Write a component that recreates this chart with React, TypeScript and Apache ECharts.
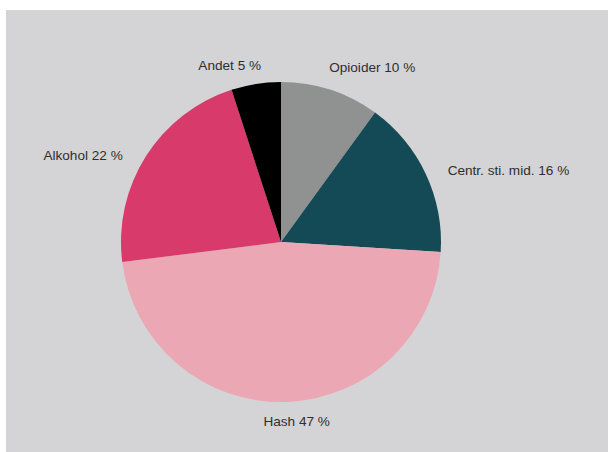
import React, { useEffect, useRef } from "react";
import * as echarts from "echarts";

const categories = ["Opioider", "Centr. sti. mid.", "Hash", "Alkohol", "Andet"];
const values = [10, 16, 47, 22, 5];
const colors = ["#8f9290", "#134a55", "#eba7b3", "#d73a6b", "#000000"];
const labelShift: [number, number][] = [
  [-10, -11],
  [6, 2],
  [-28, 8],
  [-8, 6],
  [12, -7],
];

export default function App() {
  const ref = useRef<HTMLDivElement>(null);
  useEffect(() => {
    if (!ref.current) return;
    const chart = echarts.init(ref.current, null, { renderer: "svg" });
    chart.setOption({
      animation: false,
      backgroundColor: "#d4d4d6",
      series: [
        {
          type: "pie",
          center: [275, 232],
          radius: [0, 160],
          startAngle: 90,
          clockwise: true,
          avoidLabelOverlap: false,
          data: categories.map((c, i) => ({
            name: c,
            value: values[i],
            itemStyle: { color: colors[i] },
          })),
          label: {
            show: true,
            position: "outside",
            formatter: (p: any) => `${p.name} ${p.value} %`,
            fontFamily: "Liberation Sans, Arial, sans-serif",
            fontSize: 13.6,
            color: "#2e2e2e",
          },
          labelLine: { show: false, length: 12, length2: 0 },
          labelLayout: (p: any) => {
            const s = labelShift[p.dataIndex];
            return { dx: s[0], dy: s[1] };
          },
          emphasis: { disabled: true },
        },
      ],
    });
    return () => chart.dispose();
  }, []);
  return (
    <div style={{ position: "absolute", left: 0, top: 0, width: 608, height: 452, background: "#ffffff" }}>
      <div ref={ref} style={{ position: "absolute", left: 6, top: 10, width: 602, height: 442 }} />
    </div>
  );
}
